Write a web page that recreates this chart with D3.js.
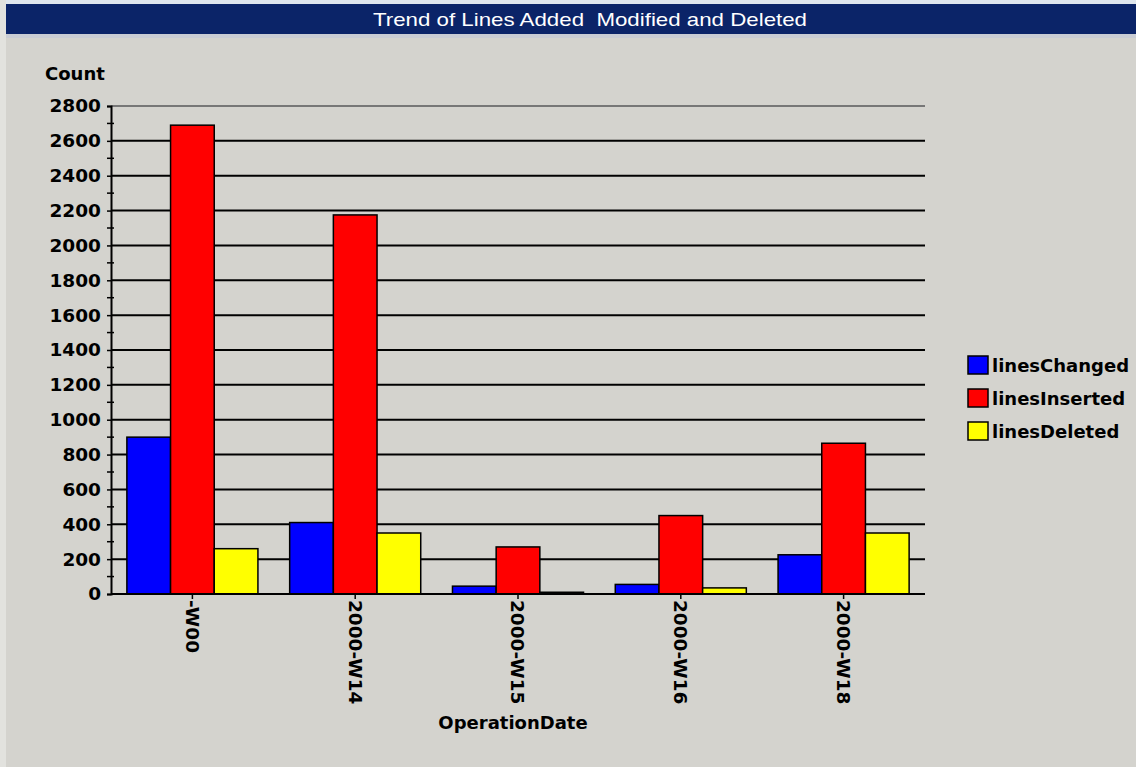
<!DOCTYPE html>
<html>
<head>
<meta charset="utf-8">
<script src="https://cdn.jsdelivr.net/npm/d3@7"></script>
<style>
  body { margin: 0; background: #d4d3ce; }
  svg { display: block; }
  .lbl { font-family: "DejaVu Sans", sans-serif; font-weight: bold; fill: #000; }
</style>
</head>
<body>
<div id="chart"></div>
<script>
// data
var categories = ["-W00", "2000-W14", "2000-W15", "2000-W16", "2000-W18"];
var seriesNames = ["linesChanged", "linesInserted", "linesDeleted"];
var seriesColors = ["#0000ff", "#ff0000", "#ffff00"];
var linesChanged = [900, 410, 45, 55, 225];
var linesInserted = [2690, 2175, 270, 450, 865];
var linesDeleted = [260, 350, 10, 35, 350];
var yTicks = d3.range(0, 2801, 200);
var yMinorTicks = d3.range(100, 2800, 200);

var width = 1136, height = 767;
var plot = { left: 111, right: 925, top: 106, bottom: 594 };

var svg = d3.select("#chart").append("svg")
    .attr("width", width)
    .attr("height", height);

// window frame look
svg.append("rect").attr("width", width).attr("height", height).attr("fill", "#d4d3ce");
svg.append("rect").attr("x", 0).attr("y", 0).attr("width", width).attr("height", 4).attr("fill", "#dfe6ee");
svg.append("rect").attr("x", 0).attr("y", 0).attr("width", 6).attr("height", height).attr("fill", "#e2e2de");
svg.append("rect").attr("x", 6).attr("y", 4).attr("width", width - 6).attr("height", 30).attr("fill", "#0b2468");
svg.append("rect").attr("x", 6).attr("y", 34).attr("width", width - 6).attr("height", 4).attr("fill", "#c9ccd4");

svg.append("text")
    .attr("x", 590).attr("y", 26)
    .attr("text-anchor", "middle")
    .attr("fill", "#fff")
    .style("font-family", "'Liberation Sans Narrow', 'Liberation Sans', sans-serif")
    .style("font-size", "19px")
    .style("white-space", "pre")
    .attr("textLength", 434)
    .attr("lengthAdjust", "spacingAndGlyphs")
    .text("Trend of Lines Added  Modified and Deleted");

var x0 = d3.scaleBand()
    .domain(categories)
    .range([plot.left, plot.right])
    .paddingInner(0.195)
    .paddingOuter(0.0975);

var x1 = d3.scaleBand()
    .domain(seriesNames)
    .range([0, x0.bandwidth()]);

var y = d3.scaleLinear()
    .domain([0, 2800])
    .range([plot.bottom, plot.top]);

// grid lines
svg.append("g").selectAll("line")
    .data(yTicks.filter(function(d) { return d > 0; }))
    .enter().append("line")
    .attr("x1", plot.left).attr("x2", plot.right)
    .attr("y1", function(d) { return y(d); })
    .attr("y2", function(d) { return y(d); })
    .attr("stroke", function(d) { return d == 2800 ? "#777" : "#000"; })
    .attr("stroke-width", 2);

// bars
var values = [linesChanged, linesInserted, linesDeleted];
var groups = svg.append("g").selectAll("g")
    .data(categories)
    .enter().append("g")
    .attr("transform", function(d) { return "translate(" + x0(d) + ",0)"; });

groups.selectAll("rect")
    .data(function(d, i) {
        return seriesNames.map(function(s, j) {
            return { name: s, value: values[j][i], color: seriesColors[j] };
        });
    })
    .enter().append("rect")
    .attr("x", function(d) { return x1(d.name); })
    .attr("width", x1.bandwidth())
    .attr("y", function(d) { return y(d.value); })
    .attr("height", function(d) { return y(0) - y(d.value); })
    .attr("fill", function(d) { return d.color; })
    .attr("stroke", "#000")
    .attr("stroke-width", 1.5);

// y axis
var yAxis = svg.append("g")
    .attr("transform", "translate(" + plot.left + ",0)")
    .call(d3.axisLeft(y).tickValues(yTicks).tickSize(4).tickFormat(d3.format("d")));
yAxis.select(".domain").attr("stroke", "#000").attr("stroke-width", 2);
yAxis.selectAll(".tick line").attr("stroke", "#000").attr("stroke-width", 1.5);
yAxis.selectAll(".tick text")
    .attr("class", "lbl")
    .attr("x", -10)
    .style("font-size", "18.5px");

svg.append("g").selectAll("line")
    .data(yMinorTicks)
    .enter().append("line")
    .attr("x1", plot.left - 4).attr("x2", plot.left + 3)
    .attr("y1", function(d) { return y(d); })
    .attr("y2", function(d) { return y(d); })
    .attr("stroke", "#000")
    .attr("stroke-width", 1.5);

// x axis
svg.append("line")
    .attr("x1", plot.left).attr("x2", plot.right)
    .attr("y1", plot.bottom).attr("y2", plot.bottom)
    .attr("stroke", "#000").attr("stroke-width", 2);

var xt = svg.append("g").selectAll("g")
    .data(categories)
    .enter().append("g")
    .attr("transform", function(d) {
        return "translate(" + (x0(d) + x0.bandwidth() / 2) + "," + plot.bottom + ")";
    });
xt.append("line").attr("y1", 0).attr("y2", 5).attr("stroke", "#000").attr("stroke-width", 1.5);
xt.append("text")
    .attr("class", "lbl")
    .style("font-size", "18.5px")
    .attr("transform", "translate(0,6) rotate(90)")
    .attr("dy", "0.36em")
    .attr("text-anchor", "start")
    .text(function(d) { return d; });

// axis titles
svg.append("text")
    .attr("class", "lbl")
    .attr("x", 45).attr("y", 80)
    .style("font-size", "18px")
    .text("Count");

svg.append("text")
    .attr("class", "lbl")
    .attr("x", 513).attr("y", 729)
    .attr("text-anchor", "middle")
    .style("font-size", "18px")
    .text("OperationDate");

// legend
var legend = svg.append("g").selectAll("g")
    .data(seriesNames)
    .enter().append("g")
    .attr("transform", function(d, i) { return "translate(968," + (356 + i * 33) + ")"; });
legend.append("rect")
    .attr("width", 20).attr("height", 18)
    .attr("fill", function(d, i) { return seriesColors[i]; })
    .attr("stroke", "#000")
    .attr("stroke-width", 1.5);
legend.append("text")
    .attr("class", "lbl")
    .attr("x", 24).attr("y", 16)
    .style("font-size", "18px")
    .text(function(d) { return d; });
</script>
</body>
</html>
